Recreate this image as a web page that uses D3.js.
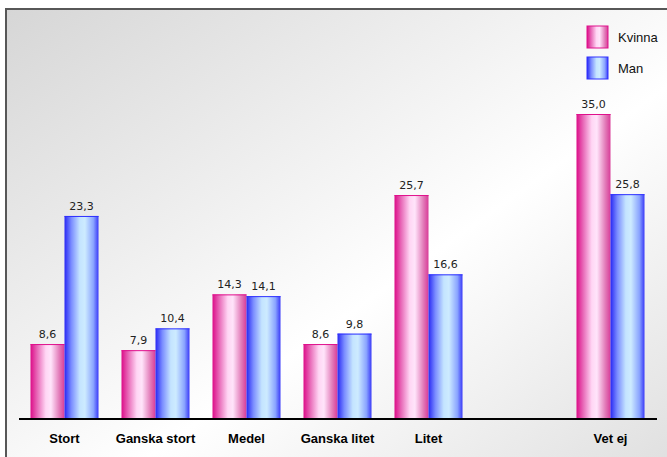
<!DOCTYPE html>
<html>
<head>
<meta charset="utf-8">
<script src="https://cdn.jsdelivr.net/npm/d3@7"></script>
<style>
  body { margin: 0; background: #fff; }
  svg { display: block; }
</style>
</head>
<body>
<svg id="chart" width="667" height="457"></svg>
<script>
var categories = ["Stort", "Ganska stort", "Medel", "Ganska litet", "Litet", "", "Vet ej"];
var kvinna = [8.6, 7.9, 14.3, 8.6, 25.7, null, 35.0];
var man = [23.3, 10.4, 14.1, 9.8, 16.6, null, 25.8];
var series = ["Kvinna", "Man"];

var svg = d3.select("#chart");
var defs = svg.append("defs");

// background panel gradient
var bg = defs.append("linearGradient").attr("id", "bg")
  .attr("x1", 0).attr("y1", 0).attr("x2", 1).attr("y2", 1);
bg.append("stop").attr("offset", 0).attr("stop-color", "#d6d6d6");
bg.append("stop").attr("offset", 0.55).attr("stop-color", "#ffffff");
bg.append("stop").attr("offset", 1).attr("stop-color", "#dadada");

var grads = {
  Kvinna: ["#dc0c88", "#e86ab8", "#ffd6f4", "#ffe4fa", "#e27ab8", "#d83c98"],
  Man: ["#2828f4", "#7a8cff", "#c4e4ff", "#cdebff", "#8aa4ff", "#3a3af8"]
};
var offs = [0, 0.2, 0.45, 0.6, 0.85, 1];
series.forEach(function(s) {
  var g = defs.append("linearGradient").attr("id", "g" + s)
    .attr("x1", 0).attr("y1", 0).attr("x2", 1).attr("y2", 0);
  grads[s].forEach(function(c, i) {
    g.append("stop").attr("offset", offs[i]).attr("stop-color", c);
  });
});
var edge = { Kvinna: "#e0108c", Man: "#3030ff" };

svg.append("rect")
  .attr("x", 6).attr("y", 9)
  .attr("width", 700).attr("height", 500)
  .attr("fill", "url(#bg)")
  .attr("stroke", "#575757").attr("stroke-width", 2);

var x = d3.scaleBand().domain(categories).range([19, 656])
  .paddingInner(0.2527).paddingOuter(0.1264);
var x1 = d3.scaleBand().domain(series).range([0, x.bandwidth()]);
var y = d3.scaleLinear().domain([0, 35]).range([419, 114]);

var fmt = d3.formatLocale({ decimal: ",", thousands: " ", grouping: [3], currency: ["", ""] }).format(".1f");

var rows = categories.map(function(c, i) {
  return { cat: c, Kvinna: kvinna[i], Man: man[i] };
});

var groups = svg.selectAll(".grp")
  .data(rows)
  .enter().append("g")
  .attr("class", "grp")
  .attr("transform", function(d) { return "translate(" + x(d.cat) + ",0)"; });

var bars = groups.selectAll(".bar")
  .data(function(d) {
    return series.filter(function(s) { return d[s] != null; })
      .map(function(s) { return { s: s, v: d[s] }; });
  })
  .enter();

bars.append("rect")
  .attr("x", function(d) { return x1(d.s); })
  .attr("y", function(d) { return y(d.v); })
  .attr("width", x1.bandwidth())
  .attr("height", function(d) { return y(0) - y(d.v); })
  .attr("fill", function(d) { return "url(#g" + d.s + ")"; });

bars.append("line")
  .attr("x1", function(d) { return x1(d.s); })
  .attr("x2", function(d) { return x1(d.s) + x1.bandwidth(); })
  .attr("y1", function(d) { return y(d.v) + 0.5; })
  .attr("y2", function(d) { return y(d.v) + 0.5; })
  .attr("stroke", function(d) { return edge[d.s]; });

bars.append("text")
  .attr("x", function(d) { return x1(d.s) + x1.bandwidth() / 2; })
  .attr("y", function(d) { return y(d.v) - 6; })
  .attr("text-anchor", "middle")
  .style("font-family", "'DejaVu Sans', Verdana, sans-serif")
  .style("font-size", "11px")
  .attr("fill", "#222")
  .text(function(d) { return fmt(d.v); });

// x axis
var xAxis = svg.append("g")
  .attr("transform", "translate(0," + y(0) + ")")
  .call(d3.axisBottom(x).tickSize(0).tickPadding(15));
xAxis.select(".domain").attr("stroke", "#000").attr("stroke-width", 2)
  .attr("d", "M19,0H657");
xAxis.selectAll("text")
  .style("font-family", "'Liberation Sans', Arial, sans-serif")
  .style("font-size", "13px")
  .style("font-weight", "bold")
  .attr("fill", "#000");

// legend
var legend = svg.selectAll(".leg")
  .data(series)
  .enter().append("g")
  .attr("class", "leg")
  .attr("transform", function(d, i) { return "translate(587," + (26 + i * 31) + ")"; });
legend.append("rect")
  .attr("width", 21).attr("height", 22)
  .attr("fill", function(d) { return "url(#g" + d + ")"; })
  .attr("stroke", function(d) { return edge[d]; });
legend.append("text")
  .attr("x", 31).attr("y", 16)
  .style("font-family", "'Liberation Sans', Arial, sans-serif")
  .style("font-size", "13px")
  .attr("fill", "#111")
  .text(function(d) { return d; });
</script>
</body>
</html>
